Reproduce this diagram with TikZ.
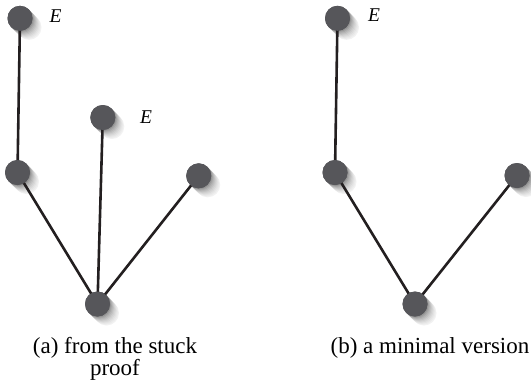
\documentclass[tikz,border=0pt]{standalone}
\usepackage{fontspec}
\setmainfont{Liberation Serif}
\usetikzlibrary{calc}
\definecolor{nodegray}{RGB}{86,86,90}
\definecolor{edgeblack}{RGB}{35,31,32}
\tikzset{
  vtx/.style={circle, fill=nodegray, minimum size=25pt, inner sep=0pt},
  edg/.style={draw=edgeblack, line width=2.6pt},
  elabel/.style={font=\fontsize{19.5}{22}\selectfont\itshape, inner sep=0pt},
  captext/.style={font=\fontsize{23}{22}\selectfont, align=center, inner sep=0pt}
}
\newcommand{\shadowat}[1]{%
  \foreach \k/\c in {9/5,8/8,7/11,6/15,5/19,4/24,3/29,2/35,1/42}{
    \fill[black!\c] ($(#1)+(\k*1.0,\k*1.0)$) circle (12.5);
  }}
\begin{document}
\begin{tikzpicture}[x=1pt,y=-1pt]
\useasboundingbox (0,0) rectangle (531,384);
% coordinates
\coordinate (pa1) at (20,18.3);
\coordinate (pa2) at (17.5,172.5);
\coordinate (pa3) at (102.8,117.5);
\coordinate (pa4) at (198.7,175.8);
\coordinate (pa5) at (97.5,304);
\coordinate (pb1) at (337.5,18.3);
\coordinate (pb2) at (335,172.5);
\coordinate (pb3) at (517,175.5);
\coordinate (pb4) at (415,304);
% shadows
\foreach \p in {pa1,pa2,pa3,pa4,pa5,pb1,pb2,pb3,pb4}{\shadowat{\p}}
% nodes
\node[vtx] (a1) at (pa1) {};
\node[vtx] (a2) at (pa2) {};
\node[vtx] (a3) at (pa3) {};
\node[vtx] (a4) at (pa4) {};
\node[vtx] (a5) at (pa5) {};
\node[vtx] (b1) at (pb1) {};
\node[vtx] (b2) at (pb2) {};
\node[vtx] (b3) at (pb3) {};
\node[vtx] (b4) at (pb4) {};
% edges
\draw[edg] (a1.center) -- (a2.center);
\draw[edg] (a2.center) -- (a5.center);
\draw[edg] (a3.center) -- (a5.center);
\draw[edg] (a4.center) -- (a5.center);
\draw[edg] (b1.center) -- (b2.center);
\draw[edg] (b2.center) -- (b4.center);
\draw[edg] (b3.center) -- (b4.center);
% redraw nodes on top of edges
\foreach \n in {a1,a2,a3,a4,a5,b1,b2,b3,b4}{\fill[nodegray] (\n.center) circle (12.5);}
% labels
\node[elabel] (ea1) at (55.5,16.5) {E};
\node[elabel] (ea3) at (146,117) {E};
\node[elabel] (eb1) at (374,15.5) {E};
% captions
\node[captext, anchor=base] (capa) at (115,375) {(a) from the stuck\\proof};
\node[captext, anchor=base] (capb) at (430,353) {(b) a minimal version};
\end{tikzpicture}
\end{document}
